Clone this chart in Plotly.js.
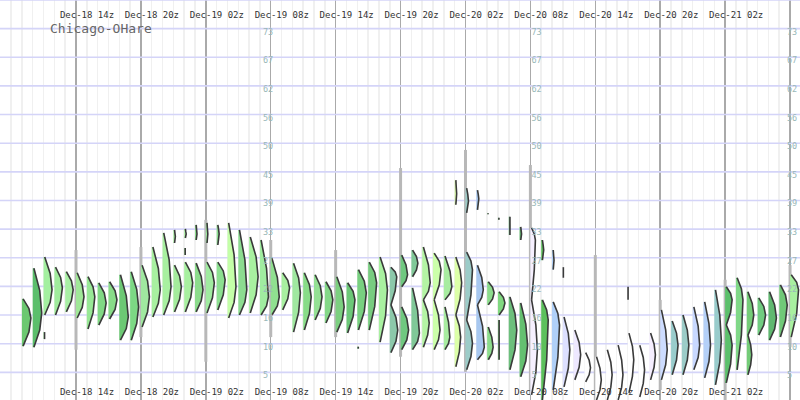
<!DOCTYPE html>
<html><head><meta charset="utf-8">
<script src="https://cdn.plot.ly/plotly-3.0.1.min.js"></script>
<style>html,body{margin:0;padding:0;background:#fff}#chart{width:800px;height:400px}</style>
</head><body><div id="chart"></div>
<script>
const stationName = 'Chicago-OHare';
const labelHours = [14,20,26,32,38,44,50,56,62,68,74,80];
const timeLabels = ['Dec-18 14z','Dec-18 20z','Dec-19 02z','Dec-19 08z','Dec-19 14z','Dec-19 20z','Dec-20 02z','Dec-20 08z','Dec-20 14z','Dec-20 20z','Dec-21 02z','Dec-21 08z'];
const tempLabels = ['5','10','16','22','27','33','39','45','50','56','62','67','73','79'];

// forecast hour (hours after Dec-18 00z) of each ensemble distribution
const forecastHours = [];
for (let h = 9; h <= 80; h++) forecastHours.push(h);

// each distribution: list of [low °F, mode °F, high °F, peak density]
const segments = [
 [[10.2,15.8,19.6,9]],
 [[10.0,16.8,25.7,9]],
 [[16.4,21.4,27.9,8.5],[11.6,12.3,13.0,1]],
 [[16.4,21.8,25.9,8]],
 [[17.0,21.4,25.0,8]],
 [[15.8,20.0,24.8,8]],
 [[13.6,20.0,24.0,8]],
 [[14.4,18.8,22.8,8.5]],
 [[15.6,19.4,23.0,8.5]],
 [[11.4,16.0,24.4,9]],
 [[11.4,18.0,25.0,8.5]],
 [[14.0,20.0,26.3,8.5]],
 [[16.0,21.4,29.9,8.5]],
 [[16.4,22.0,32.7,8.5]],
 [[17.0,22.0,26.3,8],[30.7,32.0,33.3,2]],
 [[17.0,22.8,26.9,8.5],[28.3,29.0,29.7,1],[31.7,32.5,33.5,2]],
 [[17.0,21.4,26.7,8],[31.3,32.5,34.3,2]],
 [[16.8,22.8,26.9,8.5],[30.7,32.5,34.7,2]],
 [[17.4,23.4,26.9,8.5],[30.3,32.5,34.3,2.5]],
 [[15.8,22.0,34.7,8.5]],
 [[16.4,21.4,33.3,8.5]],
 [[16.8,24.0,31.9,9]],
 [[16.4,20.0,31.3,8.5]],
 [[16.4,20.0,27.7,8.5]],
 [[17.4,21.8,24.8,8]],
 [[13.0,20.8,26.7,8]],
 [[13.4,20.0,24.8,8]],
 [[15.4,20.0,24.4,8]],
 [[14.8,19.4,23.0,8]],
 [[13.0,18.0,24.0,8.5]],
 [[12.8,19.4,22.8,8.5]],
 [[13.4,20.8,25.4,9],[9.7,9.9,10.1,1]],
 [[13.4,22.8,26.9,8.5]],
 [[11.0,21.4,27.9,8.5]],
 [[18.4,24.0,25.9,7],[8.9,13.4,18.4,8]],
 [[22.0,24.4,28.3,7],[9.5,13.4,18.0,8]],
 [[24.0,26.7,29.3,6.5],[9.5,12.8,21.8,8]],
 [[19.4,22.8,29.9,8],[10.0,14.8,19.4,7]],
 [[19.4,25.4,28.7,8],[9.5,13.4,19.4,7]],
 [[19.4,22.0,28.1,8],[9.5,12.0,18.0,6]],
 [[16.4,22.8,27.9,7],[6.1,12.0,16.4,6],[38.3,40.5,43.2,2]],
 [[15.4,25.4,28.9,7],[5.5,10.8,15.4,7],[36.7,39.0,41.6,3]],
 [[18.4,21.4,26.3,7],[7.5,10.0,18.4,8],[37.3,39.5,41.2,2.5]],
 [[18.4,20.8,23.0,7],[7.5,10.0,14.0,6],[36.4,36.5,36.6,1]],
 [[16.4,18.8,21.0,7],[7.5,10.0,15.4,1.5],[35.3,35.5,35.7,1]],
 [[5.5,13.4,20.0,8],[32.3,34.0,35.9,1.5]],
 [[4.1,10.4,18.8,8],[31.3,32.5,33.9,2]],
 [[19.4,31.3,33.7,5],[0.5,9.5,19.4,7]],
 [[-0.5,15.4,19.4,7],[27.3,29.3,31.3,2.5]],
 [[1.5,14.4,19.0,7.5],[25.4,27.3,29.3,2]],
 [[2.1,9.5,16.0,7],[23.8,24.8,25.9,0.5]],
 [[3.5,8.5,13.4,7]],
 [[3.1,5.9,8.9,6]],
 [[-0.5,3.5,8.1,6]],
 [[-0.5,4.5,9.5,6]],
 [[-0.5,4.5,10.4,6]],
 [[0.9,7.5,12.8,6],[19.4,20.7,22.0,0.3]],
 [[0.1,5.5,10.4,6]],
 [[3.5,8.5,12.8,6]],
 [[3.5,9.5,17.4,7]],
 [[4.5,10.4,15.2,7]],
 [[4.5,10.4,16.4,7]],
 [[5.5,10.4,18.0,7]],
 [[3.9,10.4,19.0,7]],
 [[2.5,11.4,21.4,7]],
 [[14.4,19.4,22.0,7],[2.9,10.4,14.4,7]],
 [[5.5,19.4,23.8,7]],
 [[12.4,16.4,21.0,7],[4.5,8.5,12.4,5]],
 [[12.4,16.4,19.8,8]],
 [[11.4,15.8,21.0,8]],
 [[12.0,18.4,22.4,8]],
 [[12.0,21.4,24.4,8.5]]
];

const fillColors = [
 '#6cc870','#5cbf6c','#a4f0a0','#a0ec9c','#a8f0a4','#a0e898','#98e896','#80d884','#88dc88','#6cc874',
 '#7cd884','#a0e8a0','#a8f0a0','#a8f0a0','#a4ec9c','#a8f0a0','#8cdc8c','#a0eca0','#8ce090','#c4ffa8',
 '#8cdc90','#a8f0a0','#a0eca0','#90e090','#a8f0a0','#a0e8a0','#88dc88','#94e094','#84d888','#7cd080',
 '#6cc878','#78d080','#78cc80','#a8f0a0','#8cc8aa','#70c880','#80c898','#b4f4a4','#ccffaa','#a8eca0',
 '#dcffa8','#9cccc8','#a8c8f0','#8cdc8c','#80d880','#6cbf7c','#64c070','#f6f0ff','#5cc05c','#b0d0f8',
 '#dde0ff','#eee8ff','#ffffff','#ffffff','#ffffff','#ffffff','#ffffff','#ffffff','#f5eeff','#cddcff',
 '#99cccc','#9cccc8','#c8d8ff','#b4d0f8','#99cccc','#5cc06c','#80d888','#74cc78','#70cc80','#60b870',
 '#70c878','#a8f0a0'
];

// ensemble extreme range at the 6-hourly marks
const whiskerHours = [14,20,26,32,38,44,50,56,62,68,74,80];
const whiskerLow  = [9.5,12.0,7.1,12.0,12.0,8.1,5.1,0.5,-0.5,1.5,-0.5,10.0];
const whiskerHigh = [29.3,29.9,35.3,31.3,29.3,45.6,49.2,46.2,28.3,19.4,23.4,26.3];

const Y_RANGE = [-0.5, 79];
const X_RANGE = [6.975, 80.92];
const gridPos = tempLabels.map((_, k) => 5 + k * 74 / 13);
const WSCALE = 1 / 10.818;

const traces = [];
// horizontal temperature gridlines
const gx = [], gy = [];
gridPos.forEach(v => { gx.push(X_RANGE[0], X_RANGE[1], null); gy.push(v, v, null); });
traces.push({type:'scatter', mode:'lines', x:gx, y:gy, line:{color:'#d4d4f8', width:1.6}, hoverinfo:'skip', showlegend:false});

const wx = [], wy = [];
whiskerHours.forEach((h, i) => { wx.push(h, h, null); wy.push(whiskerLow[i], whiskerHigh[i], null); });
traces.push({type:'scatter', mode:'lines', x:wx, y:wy, line:{color:'#b8b8b8', width:3}, hoverinfo:'skip', showlegend:false});

const ox = [], oy = [];
forecastHours.forEach((h, i) => {
  const fx = [], fy = [];
  segments[i].forEach(([lo, md, hi, w]) => {
    const w0 = Math.min(1.2, w) * WSCALE, wm = w * WSCALE, wq = Math.max(w0, 0.78 * wm);
    const xs = [h, h + w0, h + wq, h + wm, h + wq, h + w0, h];
    const ys = [lo, lo, (lo + md) / 2, md, (md + hi) / 2, hi, hi];
    fx.push(...xs, null); fy.push(...ys, null);
    ox.push(...xs.slice(1, 6), null); oy.push(...ys.slice(1, 6), null);
  });
  traces.push({type:'scatter', mode:'none', x:fx, y:fy, fill:'toself', fillcolor:fillColors[i], hoverinfo:'skip', showlegend:false});
});
traces.push({type:'scatter', mode:'lines', x:ox, y:oy, line:{color:'#3a3a3a', width:1.6}, hoverinfo:'skip', showlegend:false});

// invisible anchors so the label-only axes are drawn
traces.push({type:'scatter', mode:'markers', x:[X_RANGE[0]], y:[Y_RANGE[0]], xaxis:'x2', yaxis:'y', marker:{opacity:0}, hoverinfo:'skip', showlegend:false});
['y2','y3','y4'].forEach(ya => traces.push({type:'scatter', mode:'markers', x:[X_RANGE[0]], y:[Y_RANGE[0]], xaxis:'x', yaxis:ya, marker:{opacity:0}, hoverinfo:'skip', showlegend:false}));

const monoFont = 'DejaVu Sans Mono, monospace';
const xLabelFont = {family:monoFont, size:9, color:'#333333'};
const yLabelFont = {family:monoFont, size:8.5, color:'#99b8b8'};
function yLabelAxis(pos) {
  return {overlaying:'y', anchor:'free', position:pos, side:'right', range:Y_RANGE, autorange:false,
    tickmode:'array', tickvals:gridPos, ticktext:tempLabels, showgrid:false, zeroline:false, showline:false,
    ticks:'', tickfont:yLabelFont, ticklabelshift:3, fixedrange:true};
}

const layout = {
  width:800, height:400, margin:{l:0, r:0, t:0, b:0},
  paper_bgcolor:'#ffffff', plot_bgcolor:'#ffffff', showlegend:false,
  title:{text:stationName, x:50/800, xanchor:'left', xref:'paper', y:1 - 28/400, yanchor:'middle', yref:'paper',
    font:{family:monoFont, size:13, color:'#666'}},
  xaxis:{range:X_RANGE, autorange:false, tickmode:'array', tickvals:labelHours, ticktext:timeLabels,
    showgrid:true, gridcolor:'#aaaaaa', gridwidth:1.5, zeroline:false, showline:false, ticks:'',
    side:'bottom', ticklabelposition:'inside', ticklabelshift:11, tickfont:xLabelFont, fixedrange:true,
    minor:{tickmode:'linear', tick0:0, dtick:1, showgrid:true, gridcolor:'#f0f0f0', gridwidth:1.5, ticks:''}},
  xaxis2:{overlaying:'x', side:'top', range:X_RANGE, autorange:false, tickmode:'array', tickvals:labelHours,
    ticktext:timeLabels, showgrid:false, zeroline:false, showline:false, ticks:'', ticklabelposition:'inside',
    ticklabelshift:11, ticklabelstandoff:9, tickfont:xLabelFont, fixedrange:true},
  yaxis:{range:Y_RANGE, autorange:false, showticklabels:false, showgrid:false,
    zeroline:false, showline:false, ticks:'', fixedrange:true},
  yaxis2:yLabelAxis(262/800),
  yaxis3:yLabelAxis(530.5/800),
  yaxis4:yLabelAxis(786/800)
};

Plotly.newPlot('chart', traces, layout, {staticPlot:true, displayModeBar:false});
</script></body></html>
